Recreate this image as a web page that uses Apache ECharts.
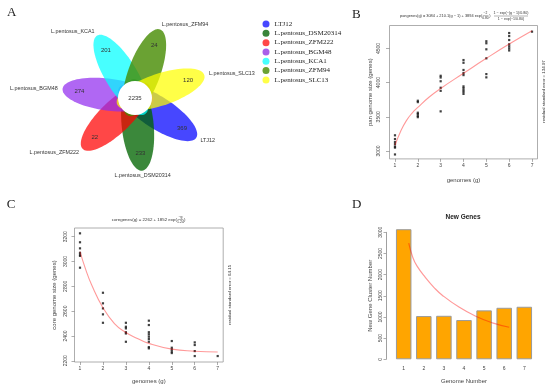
<!DOCTYPE html>
<html><head><meta charset="utf-8">
<script src="https://cdn.jsdelivr.net/npm/echarts@6/dist/echarts.min.js"></script>
<style>html,body{margin:0;padding:0;background:#fff}#c{width:550px;height:388px}</style>
</head><body><div id="c"></div>
<script>
// ---------------- data ----------------
const strains = ['LTJ12','L.pentosus_DSM20314','L.pentosus_ZFM222','L.pentosus_BGM48','L.pentosus_KCA1','L.pentosus_ZFM94','L.pentosus_SLC13'];
const uniqueGenes = [369, 233, 22, 274, 201, 24, 120];
const coreGeneCount = 2235;

const genomes = [1,2,3,4,5,6,7];
const panSizes = [
  [3230,3175,3130,3100,3065,3050,2950],
  [3735,3715,3560,3540,3515,3495],
  [4100,4075,4020,3925,3880,3580],
  [4330,4290,4185,4140,4110,3945,3920,3890,3865,3835],
  [4605,4575,4487,4355,4125,4077],
  [4725,4681,4623,4560,4530,4500,4470],
  [4745]
];
const panFitX = [1,1.25,1.5,1.75,2,2.5,3,4,5,6,7];
const panFitY = [3085,3290,3445,3555,3638,3790,3915,4136,4355,4564,4759];
const panTicks = [3000,3500,4000,4500];

const coreSizes = [
  [3227,3155,3106,3070,3055,3045,2950],
  [2748,2663,2622,2574,2506],
  [2506,2474,2461,2430,2420,2353],
  [2523,2488,2430,2413,2394,2375,2353,2310,2300],
  [2359,2305,2290,2275,2262],
  [2348,2327,2278,2238],
  [2238]
];
const coreFitX = [1,1.25,1.5,2,2.5,3,3.5,4,5,6,7];
const coreFitY = [3080,2935,2815,2628,2500,2428,2380,2340,2294,2277,2270];
const coreTicks = [2200,2400,2600,2800,3000,3200];

const newGeneCategories = ['1','2','3','4','5','6','7'];
const newGenes = [3073,1021,1028,927,1156,1217,1241];
const newGeneFitX = [1,1.25,1.5,2,2.5,3,4,5,6,7];
const newGeneFitY = [2745,2400,2200,1930,1700,1515,1233,1017,860,757];

// ---------------- styles / layout ----------------
const legendColors = ['#4747ff','#3a843a','#ff4747','#a95fe9','#47ffff','#6aa233','#ffff47'];
const petalFill = ['rgba(0,0,255,0.72)','rgba(0,100,0,0.77)','rgba(255,0,0,0.72)','rgba(145,44,238,0.72)','rgba(0,255,255,0.72)','rgba(69,139,0,0.8)','rgba(255,255,0,0.72)'];
const FL = {cx:135, cy:98, a:46, b:16, d:27, startDeg:33, numR:56, nameR:78, coreR:17};
const SANS = 'Liberation Sans';
const SERIF = 'Liberation Serif';
const FIT = 'rgba(255,0,0,0.4)';
const plain = v => String(v);

function pairs(groups){
  const out = [];
  groups.forEach((vals, gi) => vals.forEach(v => out.push([genomes[gi], v])));
  return out;
}
function zip(xs, ys){ return xs.map((x,i)=>[x, ys[i]]); }

function petalRender(i){
  return function(params, api){
    const th = (FL.startDeg + i*360/7) * Math.PI/180;
    const c = Math.cos(th), s = Math.sin(th);
    const ex = FL.cx + FL.d*c, ey = FL.cy + FL.d*s;
    const pts = [];
    for (let k=0;k<90;k++){
      const t = k/90*2*Math.PI;
      const lx = FL.a*Math.cos(t), ly = FL.b*Math.sin(t);
      pts.push(api.coord([ex + lx*c - ly*s, ey + lx*s + ly*c]));
    }
    const np = api.coord([FL.cx + FL.numR*c, FL.cy + FL.numR*s]);
    const lp = api.coord([FL.cx + FL.nameR*c, FL.cy + FL.nameR*s]);
    const al = c > 0.3 ? 'left' : (c < -0.3 ? 'right' : 'center');
    return {type:'group', children:[
      {type:'polygon', shape:{points:pts}, style:{fill:petalFill[i], stroke:null}},
      {type:'text', x:np[0], y:np[1], z2:10, style:{text:String(api.value(1)), fill:'#333', fontSize:6, fontFamily:SANS, align:'center', verticalAlign:'middle', textAlign:'center', textVerticalAlign:'middle'}},
      {type:'text', x:lp[0], y:lp[1], z2:10, style:{text:strains[i], fill:'#333', fontSize:5.4, fontFamily:SANS, align:al, verticalAlign:'middle', textAlign:al, textVerticalAlign:'middle'}}
    ]};
  };
}

const series = [];
strains.forEach((name, i) => {
  series.push({
    type:'custom', name:name, xAxisIndex:3, yAxisIndex:3,
    itemStyle:{color:legendColors[i]},
    renderItem: petalRender(i),
    data:[[i, uniqueGenes[i]]], silent:true, animation:false
  });
});
series.push({
  type:'custom', name:'core', xAxisIndex:3, yAxisIndex:3, z:5,
  renderItem: function(params, api){
    const p = api.coord([FL.cx, FL.cy]);
    return {type:'group', children:[
      {type:'circle', shape:{cx:p[0], cy:p[1], r:FL.coreR}, style:{fill:'#fff', stroke:null}},
      {type:'text', x:p[0], y:p[1], style:{text:String(api.value(1)), fill:'#333', fontSize:6, fontFamily:SANS, align:'center', verticalAlign:'middle', textAlign:'center', textVerticalAlign:'middle'}}
    ]};
  },
  data:[[0, coreGeneCount]], silent:true, animation:false
});
// B
series.push({type:'scatter', xAxisIndex:0, yAxisIndex:0, symbol:'rect', symbolSize:2.2, itemStyle:{color:'#111'}, data:pairs(panSizes), silent:true});
series.push({type:'line', xAxisIndex:0, yAxisIndex:0, smooth:true, showSymbol:false, lineStyle:{color:FIT, width:1.1}, data:zip(panFitX, panFitY), silent:true});
// C
series.push({type:'scatter', xAxisIndex:1, yAxisIndex:1, symbol:'rect', symbolSize:2.2, itemStyle:{color:'#111'}, data:pairs(coreSizes), silent:true});
series.push({type:'line', xAxisIndex:1, yAxisIndex:1, smooth:true, showSymbol:false, lineStyle:{color:FIT, width:1.1}, data:zip(coreFitX, coreFitY), silent:true});
// D
series.push({type:'bar', xAxisIndex:2, yAxisIndex:2, barWidth:15.5, clip:false, itemStyle:{color:'#FFA500', borderColor:'#9a9a9a', borderWidth:1}, data:newGenes, silent:true});
series.push({type:'line', xAxisIndex:4, yAxisIndex:2, smooth:true, showSymbol:false, z:5, lineStyle:{color:FIT, width:1.2}, data:zip(newGeneFitX, newGeneFitY), silent:true});

const tickLbl = {fontSize:5, fontFamily:SANS, color:'#444', formatter:plain};
const nameTs = {fontSize:6, fontFamily:SANS, color:'#444'};

function txt(text, x, y, size, opts){
  opts = opts || {};
  const al = opts.align || 'center';
  return {type:'text', x:x, y:y, rotation:opts.rot||0, style:{text:text, fill:opts.color||'#333', fontSize:size, fontFamily:opts.family||SANS, fontWeight:opts.weight||'normal', align:al, textAlign:al, verticalAlign:'middle', textVerticalAlign:'middle'}};
}
function hline(x1, x2, y){ return {type:'line', shape:{x1:x1, y1:y, x2:x2, y2:y}, style:{stroke:'#444', lineWidth:0.4}}; }

const graphics = [
  txt('A', 11.7, 12.8, 13, {family:SERIF, color:'#222'}),
  txt('B', 356.3, 14.2, 13, {family:SERIF, color:'#222'}),
  txt('C', 11.2, 204.5, 13, {family:SERIF, color:'#222'}),
  txt('D', 356.7, 204.2, 13, {family:SERIF, color:'#222'}),
  // B formula
  txt('pangenes(g) = 3084 + 210.1(g \u2212 1) + 3894 exp(', 400, 15.7, 3.9, {align:'left'}),
  txt('\u22122', 485.5, 13.3, 3.3),
  hline(482.7, 488.5, 15.7),
  txt('0.80', 485.5, 18.2, 3.3),
  txt(')', 489.2, 15.7, 3.9, {align:'left'}),
  txt('1 \u2212 exp(\u2212(g \u2212 1)/0.80)', 511, 12.6, 3.6),
  hline(494, 528, 16),
  txt('1 \u2212 exp(\u22121/0.80)', 511, 19.4, 3.6),
  txt('residual standard error = 134.97', 543.5, 91.5, 4.4, {rot:Math.PI/2}),
  // C formula
  txt('coregenes(g) = 2262 + 1852 exp(', 111.7, 219.3, 4.4, {align:'left'}),
  txt('\u2212g', 180.5, 217, 3.5),
  hline(177.6, 183.4, 219.5),
  txt('1.24', 180.5, 222, 3.5),
  txt(')', 184, 219.3, 4.4, {align:'left'}),
  txt('residual standard error = 64.15', 229.5, 295, 4.4, {rot:Math.PI/2}),
  // D title
  txt('New Genes', 463, 217.5, 6.5, {weight:'bold', color:'#222'})
];

const option = {
  backgroundColor:'#fff',
  animation:false,
  legend:{
    orient:'vertical', left:262.5, top:19.3, padding:0, itemWidth:7, itemHeight:7, itemGap:0,
    icon:'circle', selectedMode:false, data:strains,
    textStyle:{fontFamily:SERIF, fontSize:7, color:'#222', lineHeight:9.33}
  },
  grid:[
    {left:389.5, top:25.5, width:148, height:133.4, show:true, borderColor:'#999', borderWidth:0.8, backgroundColor:'transparent'},
    {left:74.5, top:228, width:148.7, height:134, show:true, borderColor:'#999', borderWidth:0.8, backgroundColor:'transparent'},
    {left:393.65, top:232.3, width:140.7, height:127},
    {left:0, top:0, width:275, height:195}
  ],
  xAxis:[
    {type:'value', gridIndex:0, min:0.76, max:7.24, splitLine:{show:false}, axisLine:{show:false},
     axisTick:{show:true, length:3, lineStyle:{color:'#777', width:0.6}, customValues:genomes},
     axisLabel:Object.assign({margin:4.5, customValues:genomes}, tickLbl),
     name:'genomes (g)', nameLocation:'middle', nameGap:18.4, nameTextStyle:nameTs},
    {type:'value', gridIndex:1, min:0.76, max:7.24, splitLine:{show:false}, axisLine:{show:false},
     axisTick:{show:true, length:3, lineStyle:{color:'#777', width:0.6}, customValues:genomes},
     axisLabel:Object.assign({margin:4, customValues:genomes}, tickLbl),
     name:'genomes (g)', nameLocation:'middle', nameGap:16.3, nameTextStyle:nameTs},
    {type:'category', gridIndex:2, data:newGeneCategories, axisLine:{show:false}, axisTick:{show:false},
     axisLabel:Object.assign({margin:7.2}, tickLbl),
     name:'Genome Number', nameLocation:'middle', nameGap:19, nameTextStyle:nameTs},
    {type:'value', gridIndex:3, min:0, max:275, show:false},
    {type:'value', gridIndex:2, min:0.1, max:8.5, show:false}
  ],
  yAxis:[
    {type:'value', gridIndex:0, min:2885, max:4835, splitLine:{show:false}, axisLine:{show:false},
     axisTick:{show:true, length:3.5, lineStyle:{color:'#777', width:0.6}, customValues:panTicks},
     axisLabel:Object.assign({margin:8, rotate:90, customValues:panTicks}, tickLbl),
     name:'pan genome size (genes)', nameLocation:'middle', nameGap:15.8, nameTextStyle:nameTs},
    {type:'value', gridIndex:1, min:2190, max:3270, splitLine:{show:false}, axisLine:{show:false},
     axisTick:{show:true, length:3, lineStyle:{color:'#777', width:0.6}, customValues:coreTicks},
     axisLabel:Object.assign({margin:6.5, rotate:90, customValues:coreTicks}, tickLbl),
     name:'core genome size (genes)', nameLocation:'middle', nameGap:16.7, nameTextStyle:nameTs},
    {type:'value', gridIndex:2, min:0, max:3000, interval:500, offset:7.65, splitLine:{show:false},
     axisLine:{show:true, lineStyle:{color:'#777', width:0.7}},
     axisTick:{show:true, length:2.5, lineStyle:{color:'#777', width:0.6}},
     axisLabel:Object.assign({margin:2.5, rotate:90}, tickLbl),
     name:'New Gene Cluster Number', nameLocation:'middle', nameGap:13, nameTextStyle:nameTs},
    {type:'value', gridIndex:3, min:0, max:195, inverse:true, show:false}
  ],
  graphic:graphics,
  series:series
};

const chart = echarts.init(document.getElementById('c'), null, {renderer:'canvas'});
chart.setOption(option);
</script>
</body></html>
